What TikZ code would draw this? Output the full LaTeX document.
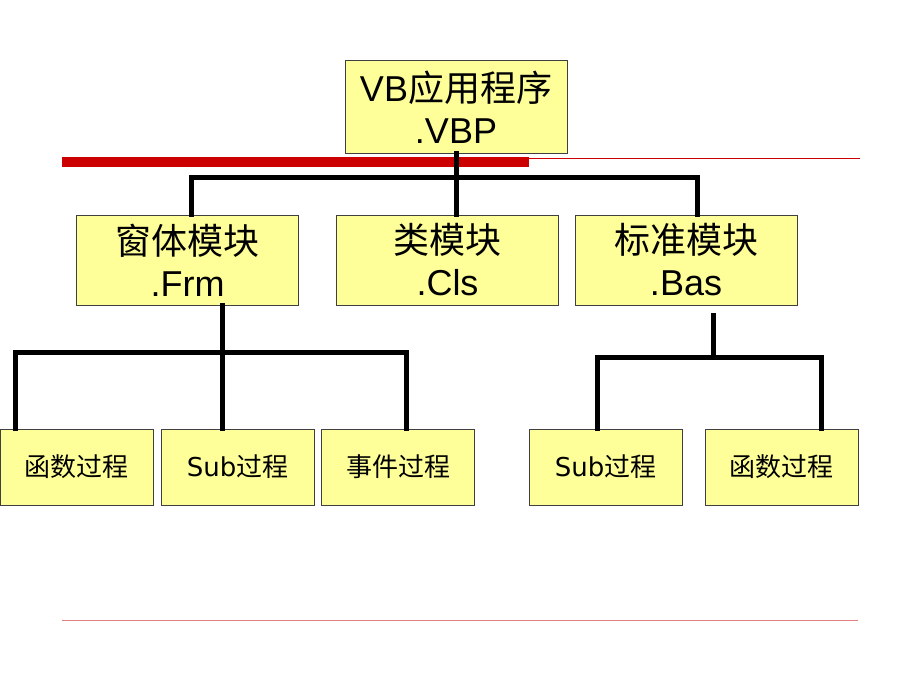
\documentclass[tikz,border=0pt]{standalone}
\usepackage{fontspec}
\setmainfont{Liberation Sans}
\newfontfamily\cjk{Noto Sans CJK SC}
\newfontfamily\verd{DejaVu Sans}
\definecolor{boxfill}{HTML}{FFFF99}
\definecolor{boxline}{HTML}{404040}
\definecolor{barred}{HTML}{CC0000}
\definecolor{thinred}{HTML}{E08080}
\tikzset{
  bigbox/.style={draw=boxline, line width=1pt, fill=boxfill, minimum width=222, minimum height=90, inner sep=0pt, align=center, font=\fontsize{36}{42}\selectfont},
  smallbox/.style={draw=boxline, line width=1pt, fill=boxfill, minimum width=153, minimum height=76, inner sep=0pt, font=\fontsize{26}{30}\selectfont},
  conn/.style={line width=5pt, line cap=rect, line join=miter}
}
\begin{document}
\begin{tikzpicture}[x=1pt,y=-1pt]
\useasboundingbox (0,0) rectangle (920,690);
% decorations
\fill[barred] (62,157) rectangle (529,167);
\draw[barred, line width=1pt] (529,158) -- (860,158);
\draw[thinred, line width=1pt] (62,620) -- (858,620);
% nodes
\node[bigbox, minimum height=92] (top) at (456,107) {VB{\cjk 应用程序}\\.VBP};
\node[bigbox] (frm) at (187.5,260) {{\cjk 窗体模块}\\.Frm};
\node[bigbox] (cls) at (447.5,260) {{\cjk 类模块}\\.Cls};
\node[bigbox] (bas) at (686,260) {{\cjk 标准模块}\\.Bas};
\node[smallbox] (f1) at (76.5,467) {\cjk 函数过程};
\node[smallbox] (f2) at (237.5,467) {\verd Sub{\cjk 过程}};
\node[smallbox] (f3) at (398,467) {\cjk 事件过程};
\node[smallbox] (b1) at (605.5,467) {\verd Sub{\cjk 过程}};
\node[smallbox] (b2) at (781.5,467) {\cjk 函数过程};
% junction coordinates
\coordinate (j1) at (456,177);
\coordinate (jfL) at (191,177);
\coordinate (jfR) at (697,177);
\coordinate (j2) at (222,352);
\coordinate (j2L) at (15,352);
\coordinate (j2R) at (406,352);
\coordinate (bstart) at (713,315);
\coordinate (j3) at (713,357);
\coordinate (j3L) at (597,357);
\coordinate (j3R) at (821,357);
% connectors
\draw[conn] (top.south) -- (j1);
\draw[conn] (frm.north -| jfL) -- (jfL) -- (jfR) -- (bas.north -| jfR);
\draw[conn] (j1) -- (cls.north -| j1);
\draw[conn] (frm.south -| j2) -- (j2);
\draw[conn] (f1.north -| j2L) -- (j2L) -- (j2R) -- (f3.north -| j2R);
\draw[conn] (j2) -- (f2.north -| j2);
\draw[conn] (bstart) -- (j3);
\draw[conn] (b1.north -| j3L) -- (j3L) -- (j3R) -- (b2.north -| j3R);
\end{tikzpicture}
\end{document}
